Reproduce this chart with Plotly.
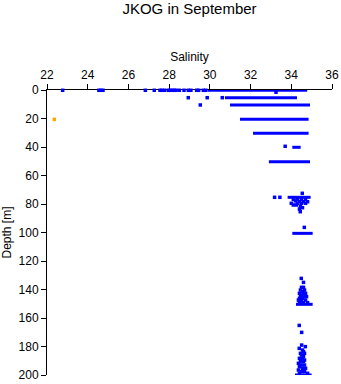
import plotly.graph_objects as go

# ---- data (salinity, depth[m]) ----
# isolated blue samples
pt_sal = [22.77, 24.55, 24.65, 24.75, 26.83, 27.27, 27.55, 27.65, 27.78, 27.96, 28.05,
          28.15, 28.25, 28.34, 28.50, 28.73, 28.94, 29.07, 29.35, 29.45, 29.68, 29.80,
          33.25,
          28.94, 29.87, 30.61,
          29.53,
          33.70,
          34.54, 33.18, 33.44,
          34.10, 34.30, 34.50, 34.70, 34.20, 34.40, 34.60, 34.80, 34.00, 34.30, 34.50,
          34.70, 34.10, 34.25, 34.45, 34.55, 34.40, 34.44, 34.64,
          34.49, 34.60,
          34.50, 34.60, 34.45, 34.65, 34.55, 34.40, 34.60, 34.70, 34.50, 34.45, 34.65,
          34.75, 34.40, 34.55, 34.70, 34.35, 34.50, 34.60, 34.80, 34.40,
          34.39, 34.51, 34.51, 34.69, 34.39,
          34.55, 34.60, 34.45, 34.65, 34.50, 34.60, 34.40, 34.55, 34.65, 34.45, 34.60,
          34.35, 34.50, 34.65, 34.40, 34.55, 34.70, 34.35, 34.50, 34.65, 34.40, 34.80]
pt_depth = [0.2] * 22 + [1.6] + [5.4] * 3 + [10.5] + [39.5] + \
           [72.5, 75.3, 75.3,
            76.7, 76.7, 76.7, 76.7, 77.8, 78.4, 78.4, 78.4, 79.5, 79.5, 79.5,
            79.5, 80.7, 80.7, 81.5, 82.6, 83.5, 85.4, 96.4,
            132.2, 135.0,
            138.5, 138.5, 140.4, 140.4, 141.5, 142.7, 142.7, 142.7, 144.0, 145.0, 145.0,
            145.0, 146.2, 146.2, 147.4, 147.4, 148.3, 149.2, 149.2, 149.2,
            165.2, 170.1, 179.0, 180.1, 181.3,
            182.5, 183.6, 184.8, 184.8, 186.0, 187.0, 188.3, 188.3, 189.5, 190.6, 190.6,
            191.8, 193.0, 193.0, 194.2, 195.3, 195.3, 196.5, 197.7, 197.7, 198.8, 198.8]

# dense runs of samples at one depth (salinity from .. to)
run_depth = [0.2, 5.4, 10.5, 20.6, 30.4, 40.2, 50.3, 75.3, 100.6, 150.4, 200.0]
run_sal_from = [29.90, 30.74, 30.99, 31.48, 32.12, 34.05, 32.90, 33.82, 34.05, 34.23, 34.18]
run_sal_to = [34.78, 34.28, 34.92, 34.85, 34.85, 34.46, 34.92, 34.95, 35.05, 35.05, 35.00]

# other station (orange)
or_sal = [22.36]
or_depth = [20.6]

x_ticks = [22, 24, 26, 28, 30, 32, 34, 36]
y_ticks = [0, 20, 40, 60, 80, 100, 120, 140, 160, 180, 200]

BLUE = "#0000FF"
fig = go.Figure()
for d, s0, s1 in zip(run_depth, run_sal_from, run_sal_to):
    fig.add_trace(go.Scatter(x=[s0, s1], y=[d, d], mode="lines",
                             line=dict(color=BLUE, width=3), cliponaxis=False,
                             showlegend=False, hoverinfo="skip"))
fig.add_trace(go.Scatter(x=pt_sal, y=pt_depth, mode="markers",
                         marker=dict(symbol="square", size=3.5, color=BLUE, line=dict(width=0)),
                         cliponaxis=False, showlegend=False))
fig.add_trace(go.Scatter(x=or_sal, y=or_depth, mode="markers",
                         marker=dict(symbol="square", size=3.5, color="#FFA500", line=dict(width=0)),
                         cliponaxis=False, showlegend=False))

font = "Liberation Sans, Arial, sans-serif"
fig.update_layout(
    width=341, height=384,
    margin=dict(l=47, r=9, t=90, b=9),
    paper_bgcolor="white", plot_bgcolor="white",
    font=dict(family=font, size=12, color="black"),
    title=dict(text="JKOG in September", x=0.5, xref="paper", xanchor="center",
               y=1 - 9 / 384, yanchor="middle", font=dict(size=15, family=font)),
    xaxis=dict(side="top", range=[22, 36], tickvals=x_ticks, ticks="outside", ticklen=5,
               tickwidth=1, tickcolor="black", showline=True, linecolor="black", linewidth=1,
               showgrid=False, zeroline=False, layer="below traces", automargin=False,
               title=dict(text="Salinity", standoff=4, font=dict(size=12)),
               tickfont=dict(size=12)),
    yaxis=dict(range=[200, 0], tickvals=y_ticks, ticks="outside", ticklen=5, tickwidth=1,
               tickcolor="black", showline=True, linecolor="black", linewidth=1,
               showgrid=False, zeroline=False, layer="below traces", automargin=False,
               title=dict(text="Depth [m]", standoff=4, font=dict(size=12)),
               tickfont=dict(size=12)),
)
fig.write_html("out.html")
